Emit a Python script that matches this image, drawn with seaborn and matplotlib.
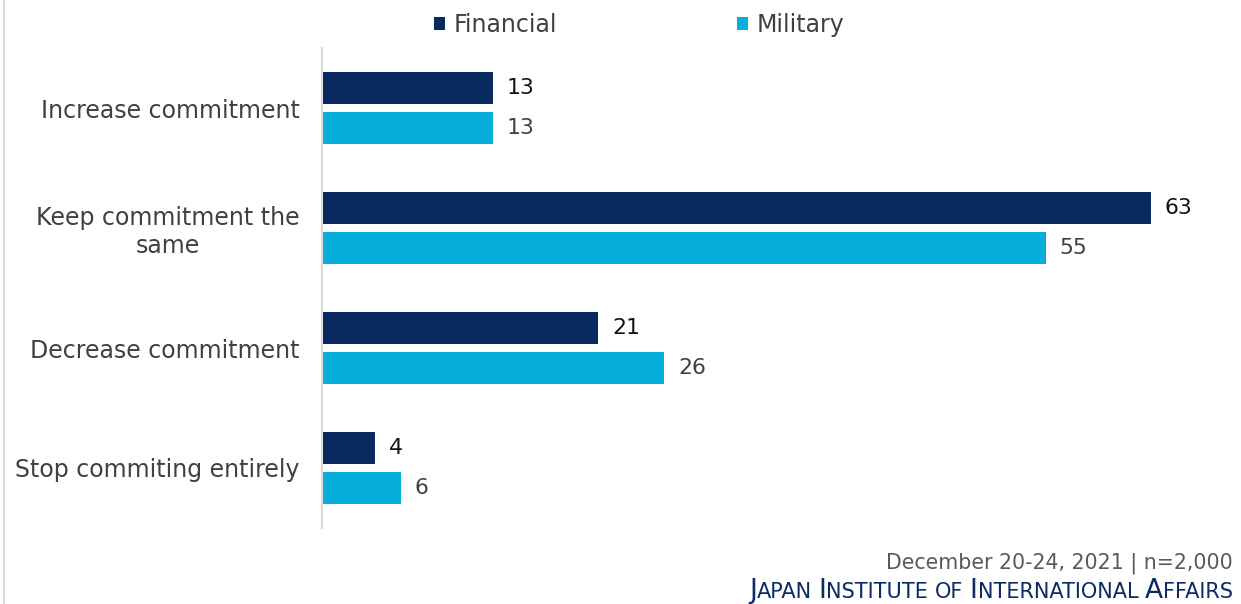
import pandas as pd
import seaborn as sns
import matplotlib.pyplot as plt
from matplotlib.lines import Line2D
from matplotlib.patches import Patch

# data
answers = ['Increase commitment', 'Keep commitment the\nsame', 'Decrease commitment', 'Stop commiting entirely']
financial = [13, 63, 21, 4]
military = [13, 55, 26, 6]
series = ['Financial', 'Military']
colors = ['#082A5E', '#06AED9']

df = pd.DataFrame({
    'answer': answers * 2,
    'value': financial + military,
    'kind': ['Financial'] * len(answers) + ['Military'] * len(answers),
})

sns.set_style('white')
plt.rcParams['font.family'] = ['DejaVu Sans']
text_col = '#404040'

fig = plt.figure(figsize=(12.41, 6.04), dpi=100)
ax = fig.add_axes([322 / 1241, 1 - 528 / 604, (1230 - 322) / 1241, (528 - 48) / 604])

sns.barplot(data=df, x='value', y='answer', hue='kind', hue_order=series,
            palette=colors, saturation=1, orient='h', width=0.667, gap=0.2,
            linewidth=0, ax=ax, legend=False)

ax.set_xlim(0, 69)
ax.set_ylim(3.5, -0.5)
ax.set_xlabel('')
ax.set_ylabel('')
ax.set_xticks([])
for s in ['top', 'right', 'bottom']:
    ax.spines[s].set_visible(False)
ax.spines['left'].set_color('#D9D9D9')
ax.spines['left'].set_linewidth(1.5)
ax.tick_params(axis='y', length=0, pad=16, labelsize=17, labelcolor=text_col)
for lab in ax.get_yticklabels():
    lab.set_multialignment('center')

for cont, col in zip(ax.containers, ['#111111', text_col]):
    ax.bar_label(cont, padding=10, fontsize=15.8, color=col)

handles = [Patch(facecolor=c, edgecolor='none') for c in colors]
fig.legend(handles, series, loc='center', bbox_to_anchor=(639 / 1241, 1 - 25 / 604),
           ncol=2, frameon=False, fontsize=17, handlelength=0.5, handleheight=0.5,
           handletextpad=0.35, columnspacing=7.6, labelcolor=text_col)

# thin grey rule at the far left
fig.add_artist(Line2D([4 / 1241, 4 / 1241], [0, 1], color='#D9D9D9', lw=1.5))

fig.text(1233 / 1241, 1 - 563 / 604, 'December 20-24, 2021 | n=2,000', ha='right', va='center',
         fontsize=14.8, color='#595959')

# small caps footer built from pieces
words = ['Japan', 'Institute', 'of', 'International', 'Affairs']
pieces = []
for i, w in enumerate(words):
    if w == 'of':
        pieces.append(('OF', 15))
    else:
        pieces.append((w[0], 19))
        pieces.append((w[1:].upper(), 15))
    if i < len(words) - 1:
        pieces.append((' ', 15))

renderer = fig.canvas.get_renderer()
texts = []
for s, size in pieces:
    t = fig.text(0, 1 - 598 / 604, s, ha='left', va='baseline', fontsize=size,
                 color='#0B2A66')
    texts.append(t)
widths = [t.get_window_extent(renderer).width for t in texts]
x = 1233 - sum(widths)
for t, w in zip(texts, widths):
    t.set_x(x / 1241)
    x += w

fig.savefig('out.png', dpi=100)
